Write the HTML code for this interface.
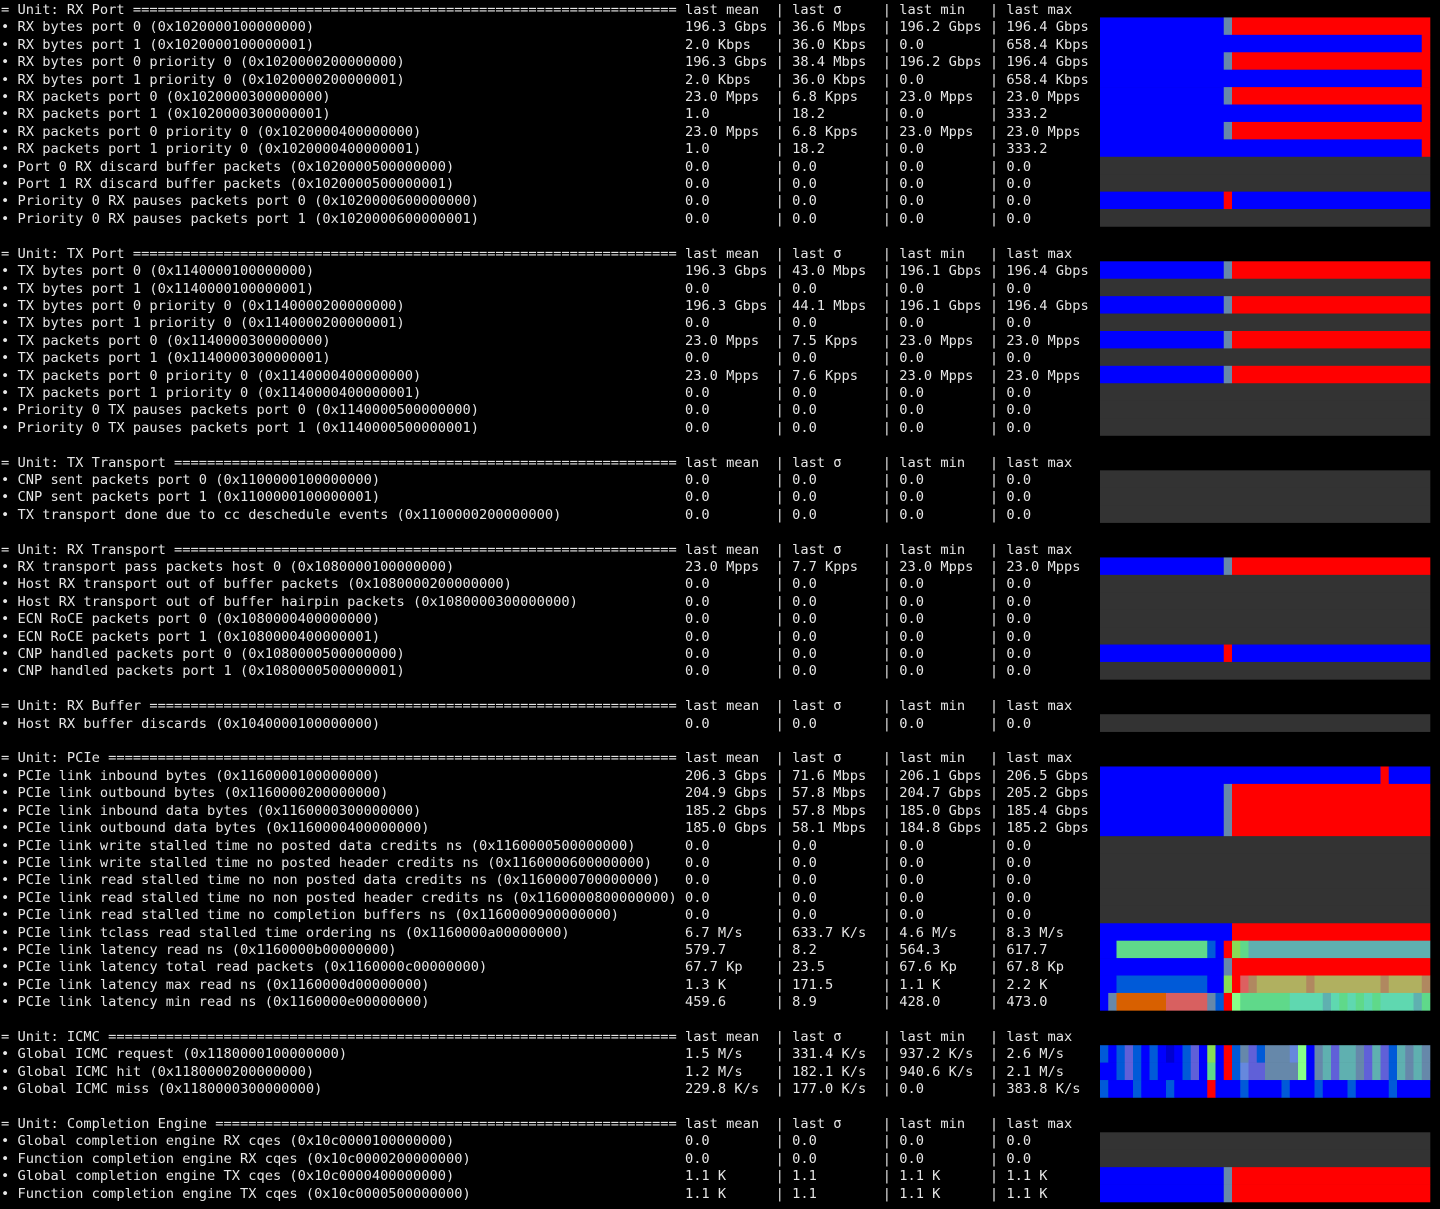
<!DOCTYPE html>
<html><head><meta charset="utf-8"><style>
html,body{margin:0;padding:0;background:#000;width:1440px;height:1209px;overflow:hidden}
#t{position:absolute;left:1px;top:2px;width:1100px;font-family:"DejaVu Sans Mono","Liberation Mono",monospace;font-size:13.7px;color:#e6e6e6}
.l{position:relative;height:17.42px;line-height:17.42px}
.l span{position:absolute;top:0;white-space:pre}
.n{left:0}
.h{width:82ch;overflow:hidden}
.a{left:83ch}.b{left:94ch}.c{left:107ch}.d{left:120ch}
svg{position:absolute;left:0;top:0}
</style></head><body>
<div id="t"><div class="l"><span class="n h">= Unit: RX Port ==========================================================================================</span><span class="a">last mean</span><span class="b">| last σ</span><span class="c">| last min</span><span class="d">| last max</span></div><div class="l"><span class="n">• RX bytes port 0 (0x1020000100000000)</span><span class="a">196.3 Gbps</span><span class="b">| 36.6 Mbps</span><span class="c">| 196.2 Gbps</span><span class="d">| 196.4 Gbps</span></div><div class="l"><span class="n">• RX bytes port 1 (0x1020000100000001)</span><span class="a">2.0 Kbps</span><span class="b">| 36.0 Kbps</span><span class="c">| 0.0</span><span class="d">| 658.4 Kbps</span></div><div class="l"><span class="n">• RX bytes port 0 priority 0 (0x1020000200000000)</span><span class="a">196.3 Gbps</span><span class="b">| 38.4 Mbps</span><span class="c">| 196.2 Gbps</span><span class="d">| 196.4 Gbps</span></div><div class="l"><span class="n">• RX bytes port 1 priority 0 (0x1020000200000001)</span><span class="a">2.0 Kbps</span><span class="b">| 36.0 Kbps</span><span class="c">| 0.0</span><span class="d">| 658.4 Kbps</span></div><div class="l"><span class="n">• RX packets port 0 (0x1020000300000000)</span><span class="a">23.0 Mpps</span><span class="b">| 6.8 Kpps</span><span class="c">| 23.0 Mpps</span><span class="d">| 23.0 Mpps</span></div><div class="l"><span class="n">• RX packets port 1 (0x1020000300000001)</span><span class="a">1.0</span><span class="b">| 18.2</span><span class="c">| 0.0</span><span class="d">| 333.2</span></div><div class="l"><span class="n">• RX packets port 0 priority 0 (0x1020000400000000)</span><span class="a">23.0 Mpps</span><span class="b">| 6.8 Kpps</span><span class="c">| 23.0 Mpps</span><span class="d">| 23.0 Mpps</span></div><div class="l"><span class="n">• RX packets port 1 priority 0 (0x1020000400000001)</span><span class="a">1.0</span><span class="b">| 18.2</span><span class="c">| 0.0</span><span class="d">| 333.2</span></div><div class="l"><span class="n">• Port 0 RX discard buffer packets (0x1020000500000000)</span><span class="a">0.0</span><span class="b">| 0.0</span><span class="c">| 0.0</span><span class="d">| 0.0</span></div><div class="l"><span class="n">• Port 1 RX discard buffer packets (0x1020000500000001)</span><span class="a">0.0</span><span class="b">| 0.0</span><span class="c">| 0.0</span><span class="d">| 0.0</span></div><div class="l"><span class="n">• Priority 0 RX pauses packets port 0 (0x1020000600000000)</span><span class="a">0.0</span><span class="b">| 0.0</span><span class="c">| 0.0</span><span class="d">| 0.0</span></div><div class="l"><span class="n">• Priority 0 RX pauses packets port 1 (0x1020000600000001)</span><span class="a">0.0</span><span class="b">| 0.0</span><span class="c">| 0.0</span><span class="d">| 0.0</span></div><div class="l"></div><div class="l"><span class="n h">= Unit: TX Port ==========================================================================================</span><span class="a">last mean</span><span class="b">| last σ</span><span class="c">| last min</span><span class="d">| last max</span></div><div class="l"><span class="n">• TX bytes port 0 (0x1140000100000000)</span><span class="a">196.3 Gbps</span><span class="b">| 43.0 Mbps</span><span class="c">| 196.1 Gbps</span><span class="d">| 196.4 Gbps</span></div><div class="l"><span class="n">• TX bytes port 1 (0x1140000100000001)</span><span class="a">0.0</span><span class="b">| 0.0</span><span class="c">| 0.0</span><span class="d">| 0.0</span></div><div class="l"><span class="n">• TX bytes port 0 priority 0 (0x1140000200000000)</span><span class="a">196.3 Gbps</span><span class="b">| 44.1 Mbps</span><span class="c">| 196.1 Gbps</span><span class="d">| 196.4 Gbps</span></div><div class="l"><span class="n">• TX bytes port 1 priority 0 (0x1140000200000001)</span><span class="a">0.0</span><span class="b">| 0.0</span><span class="c">| 0.0</span><span class="d">| 0.0</span></div><div class="l"><span class="n">• TX packets port 0 (0x1140000300000000)</span><span class="a">23.0 Mpps</span><span class="b">| 7.5 Kpps</span><span class="c">| 23.0 Mpps</span><span class="d">| 23.0 Mpps</span></div><div class="l"><span class="n">• TX packets port 1 (0x1140000300000001)</span><span class="a">0.0</span><span class="b">| 0.0</span><span class="c">| 0.0</span><span class="d">| 0.0</span></div><div class="l"><span class="n">• TX packets port 0 priority 0 (0x1140000400000000)</span><span class="a">23.0 Mpps</span><span class="b">| 7.6 Kpps</span><span class="c">| 23.0 Mpps</span><span class="d">| 23.0 Mpps</span></div><div class="l"><span class="n">• TX packets port 1 priority 0 (0x1140000400000001)</span><span class="a">0.0</span><span class="b">| 0.0</span><span class="c">| 0.0</span><span class="d">| 0.0</span></div><div class="l"><span class="n">• Priority 0 TX pauses packets port 0 (0x1140000500000000)</span><span class="a">0.0</span><span class="b">| 0.0</span><span class="c">| 0.0</span><span class="d">| 0.0</span></div><div class="l"><span class="n">• Priority 0 TX pauses packets port 1 (0x1140000500000001)</span><span class="a">0.0</span><span class="b">| 0.0</span><span class="c">| 0.0</span><span class="d">| 0.0</span></div><div class="l"></div><div class="l"><span class="n h">= Unit: TX Transport ==========================================================================================</span><span class="a">last mean</span><span class="b">| last σ</span><span class="c">| last min</span><span class="d">| last max</span></div><div class="l"><span class="n">• CNP sent packets port 0 (0x1100000100000000)</span><span class="a">0.0</span><span class="b">| 0.0</span><span class="c">| 0.0</span><span class="d">| 0.0</span></div><div class="l"><span class="n">• CNP sent packets port 1 (0x1100000100000001)</span><span class="a">0.0</span><span class="b">| 0.0</span><span class="c">| 0.0</span><span class="d">| 0.0</span></div><div class="l"><span class="n">• TX transport done due to cc deschedule events (0x1100000200000000)</span><span class="a">0.0</span><span class="b">| 0.0</span><span class="c">| 0.0</span><span class="d">| 0.0</span></div><div class="l"></div><div class="l"><span class="n h">= Unit: RX Transport ==========================================================================================</span><span class="a">last mean</span><span class="b">| last σ</span><span class="c">| last min</span><span class="d">| last max</span></div><div class="l"><span class="n">• RX transport pass packets host 0 (0x1080000100000000)</span><span class="a">23.0 Mpps</span><span class="b">| 7.7 Kpps</span><span class="c">| 23.0 Mpps</span><span class="d">| 23.0 Mpps</span></div><div class="l"><span class="n">• Host RX transport out of buffer packets (0x1080000200000000)</span><span class="a">0.0</span><span class="b">| 0.0</span><span class="c">| 0.0</span><span class="d">| 0.0</span></div><div class="l"><span class="n">• Host RX transport out of buffer hairpin packets (0x1080000300000000)</span><span class="a">0.0</span><span class="b">| 0.0</span><span class="c">| 0.0</span><span class="d">| 0.0</span></div><div class="l"><span class="n">• ECN RoCE packets port 0 (0x1080000400000000)</span><span class="a">0.0</span><span class="b">| 0.0</span><span class="c">| 0.0</span><span class="d">| 0.0</span></div><div class="l"><span class="n">• ECN RoCE packets port 1 (0x1080000400000001)</span><span class="a">0.0</span><span class="b">| 0.0</span><span class="c">| 0.0</span><span class="d">| 0.0</span></div><div class="l"><span class="n">• CNP handled packets port 0 (0x1080000500000000)</span><span class="a">0.0</span><span class="b">| 0.0</span><span class="c">| 0.0</span><span class="d">| 0.0</span></div><div class="l"><span class="n">• CNP handled packets port 1 (0x1080000500000001)</span><span class="a">0.0</span><span class="b">| 0.0</span><span class="c">| 0.0</span><span class="d">| 0.0</span></div><div class="l"></div><div class="l"><span class="n h">= Unit: RX Buffer ==========================================================================================</span><span class="a">last mean</span><span class="b">| last σ</span><span class="c">| last min</span><span class="d">| last max</span></div><div class="l"><span class="n">• Host RX buffer discards (0x1040000100000000)</span><span class="a">0.0</span><span class="b">| 0.0</span><span class="c">| 0.0</span><span class="d">| 0.0</span></div><div class="l"></div><div class="l"><span class="n h">= Unit: PCIe ==========================================================================================</span><span class="a">last mean</span><span class="b">| last σ</span><span class="c">| last min</span><span class="d">| last max</span></div><div class="l"><span class="n">• PCIe link inbound bytes (0x1160000100000000)</span><span class="a">206.3 Gbps</span><span class="b">| 71.6 Mbps</span><span class="c">| 206.1 Gbps</span><span class="d">| 206.5 Gbps</span></div><div class="l"><span class="n">• PCIe link outbound bytes (0x1160000200000000)</span><span class="a">204.9 Gbps</span><span class="b">| 57.8 Mbps</span><span class="c">| 204.7 Gbps</span><span class="d">| 205.2 Gbps</span></div><div class="l"><span class="n">• PCIe link inbound data bytes (0x1160000300000000)</span><span class="a">185.2 Gbps</span><span class="b">| 57.8 Mbps</span><span class="c">| 185.0 Gbps</span><span class="d">| 185.4 Gbps</span></div><div class="l"><span class="n">• PCIe link outbound data bytes (0x1160000400000000)</span><span class="a">185.0 Gbps</span><span class="b">| 58.1 Mbps</span><span class="c">| 184.8 Gbps</span><span class="d">| 185.2 Gbps</span></div><div class="l"><span class="n">• PCIe link write stalled time no posted data credits ns (0x1160000500000000)</span><span class="a">0.0</span><span class="b">| 0.0</span><span class="c">| 0.0</span><span class="d">| 0.0</span></div><div class="l"><span class="n">• PCIe link write stalled time no posted header credits ns (0x1160000600000000)</span><span class="a">0.0</span><span class="b">| 0.0</span><span class="c">| 0.0</span><span class="d">| 0.0</span></div><div class="l"><span class="n">• PCIe link read stalled time no non posted data credits ns (0x1160000700000000)</span><span class="a">0.0</span><span class="b">| 0.0</span><span class="c">| 0.0</span><span class="d">| 0.0</span></div><div class="l"><span class="n">• PCIe link read stalled time no non posted header credits ns (0x1160000800000000)</span><span class="a">0.0</span><span class="b">| 0.0</span><span class="c">| 0.0</span><span class="d">| 0.0</span></div><div class="l"><span class="n">• PCIe link read stalled time no completion buffers ns (0x1160000900000000)</span><span class="a">0.0</span><span class="b">| 0.0</span><span class="c">| 0.0</span><span class="d">| 0.0</span></div><div class="l"><span class="n">• PCIe link tclass read stalled time ordering ns (0x1160000a00000000)</span><span class="a">6.7 M/s</span><span class="b">| 633.7 K/s</span><span class="c">| 4.6 M/s</span><span class="d">| 8.3 M/s</span></div><div class="l"><span class="n">• PCIe link latency read ns (0x1160000b00000000)</span><span class="a">579.7</span><span class="b">| 8.2</span><span class="c">| 564.3</span><span class="d">| 617.7</span></div><div class="l"><span class="n">• PCIe link latency total read packets (0x1160000c00000000)</span><span class="a">67.7 Kp</span><span class="b">| 23.5</span><span class="c">| 67.6 Kp</span><span class="d">| 67.8 Kp</span></div><div class="l"><span class="n">• PCIe link latency max read ns (0x1160000d00000000)</span><span class="a">1.3 K</span><span class="b">| 171.5</span><span class="c">| 1.1 K</span><span class="d">| 2.2 K</span></div><div class="l"><span class="n">• PCIe link latency min read ns (0x1160000e00000000)</span><span class="a">459.6</span><span class="b">| 8.9</span><span class="c">| 428.0</span><span class="d">| 473.0</span></div><div class="l"></div><div class="l"><span class="n h">= Unit: ICMC ==========================================================================================</span><span class="a">last mean</span><span class="b">| last σ</span><span class="c">| last min</span><span class="d">| last max</span></div><div class="l"><span class="n">• Global ICMC request (0x1180000100000000)</span><span class="a">1.5 M/s</span><span class="b">| 331.4 K/s</span><span class="c">| 937.2 K/s</span><span class="d">| 2.6 M/s</span></div><div class="l"><span class="n">• Global ICMC hit (0x1180000200000000)</span><span class="a">1.2 M/s</span><span class="b">| 182.1 K/s</span><span class="c">| 940.6 K/s</span><span class="d">| 2.1 M/s</span></div><div class="l"><span class="n">• Global ICMC miss (0x1180000300000000)</span><span class="a">229.8 K/s</span><span class="b">| 177.0 K/s</span><span class="c">| 0.0</span><span class="d">| 383.8 K/s</span></div><div class="l"></div><div class="l"><span class="n h">= Unit: Completion Engine ==========================================================================================</span><span class="a">last mean</span><span class="b">| last σ</span><span class="c">| last min</span><span class="d">| last max</span></div><div class="l"><span class="n">• Global completion engine RX cqes (0x10c0000100000000)</span><span class="a">0.0</span><span class="b">| 0.0</span><span class="c">| 0.0</span><span class="d">| 0.0</span></div><div class="l"><span class="n">• Function completion engine RX cqes (0x10c0000200000000)</span><span class="a">0.0</span><span class="b">| 0.0</span><span class="c">| 0.0</span><span class="d">| 0.0</span></div><div class="l"><span class="n">• Global completion engine TX cqes (0x10c0000400000000)</span><span class="a">1.1 K</span><span class="b">| 1.1</span><span class="c">| 1.1 K</span><span class="d">| 1.1 K</span></div><div class="l"><span class="n">• Function completion engine TX cqes (0x10c0000500000000)</span><span class="a">1.1 K</span><span class="b">| 1.1</span><span class="c">| 1.1 K</span><span class="d">| 1.1 K</span></div></div>
<svg id="s" width="1440" height="1209" xmlns="http://www.w3.org/2000/svg"></svg>
<script>
var C={B:"#0000ff",R:"#ff0000",g:"#333333",s:"#6688aa",d:"#005ad8",G:"#5fd98a",L:"#88dd55",T:"#5fb0b0",o:"#b0b060",b:"#b08860",p:"#dd6060",O:"#d86000",P:"#d86060",M:"#5fd8b0",N:"#88ff88",V:"#6060d8",v:"#0000d0",l:"#6688dd"};
function rep(c,n){return new Array(n+1).join(c);}
var L1=rep("B",15)+"s"+rep("R",24),L2=rep("B",39)+"R",RD=rep("B",15)+"R"+rep("B",24),GR=rep("g",40);
var rows={1:L1,2:L2,3:L1,4:L2,5:L1,6:L2,7:L1,8:L2,9:GR,10:GR,11:RD,12:GR,
15:L1,16:GR,17:L1,18:GR,19:L1,20:GR,21:L1,22:GR,23:GR,24:GR,
27:GR,28:GR,29:GR,
32:L1,33:GR,34:GR,35:GR,36:GR,37:RD,38:GR,
41:GR,
44:rep("B",34)+"R"+rep("B",5),45:L1,46:L1,47:L1,48:GR,49:GR,50:GR,51:GR,52:GR,
53:rep("B",16)+rep("R",24),
54:"BB"+rep("G",11)+"dBRLG"+rep("T",22),
55:L1,
56:"BB"+rep("d",11)+"BBLRpb"+rep("o",6)+"b"+rep("o",8)+"b"+rep("o",4)+"b",
57:"Bs"+rep("O",6)+rep("P",5)+"sdRN"+rep("G",6)+rep("M",4)+"TMGMGMG"+rep("M",4)+"TG",
60:"dBdVdBdBvBdVBLBRdsVdssslNBsTVTTsVTVdTsTs",
61:"BBdVdBdBBBdVBGBRdlVVssssNBsTVTTsVTVdTsTs",
62:"dBBBdBBBdBBBBRBBBdBBBBdBBBdBBBdBBBBdBBBB",
65:GR,66:GR,67:L1,68:L1};
var h="",LH=17.42,CW=8.25;
for(var k in rows){var r=rows[k],y=k*LH,i=0;
 while(i<40){var j=i;while(j<40&&r[j]==r[i])j++;
  h+='<rect x="'+(1100+i*CW).toFixed(2)+'" y="'+y.toFixed(2)+'" width="'+((j-i)*CW+0.3).toFixed(2)+'" height="'+(LH+0.3).toFixed(2)+'" fill="'+C[r[i]]+'"/>';i=j;}}
document.getElementById("s").innerHTML=h;
</script>
</body></html>
